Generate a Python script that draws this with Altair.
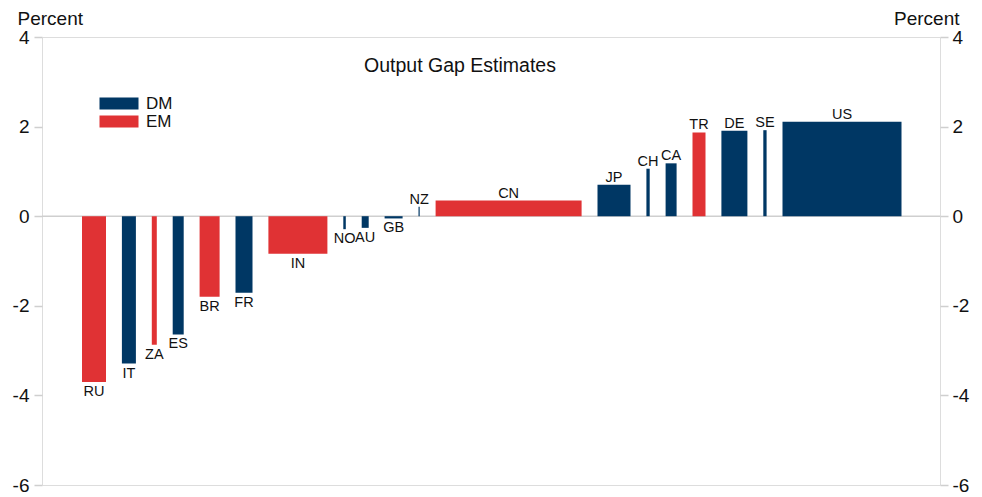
import altair as alt
import pandas as pd

countries = ["RU", "IT", "ZA", "ES", "BR", "FR", "IN", "NO", "AU", "GB", "NZ",
             "CN", "JP", "CH", "CA", "TR", "DE", "SE", "US"]
groups = ["EM", "DM", "EM", "DM", "EM", "DM", "EM", "DM", "DM", "DM", "DM",
          "EM", "DM", "DM", "DM", "EM", "DM", "DM", "DM"]
gaps = [-3.70, -3.29, -2.87, -2.64, -1.80, -1.71, -0.84, -0.29, -0.26, -0.05, 0.21,
        0.35, 0.70, 1.06, 1.18, 1.87, 1.91, 1.92, 2.11]
# relative economic weight (bar width)
weights = [24, 14, 5, 11, 20, 17, 59, 2.5, 7, 18, 1.2,
           146, 33, 3.3, 11, 13, 26, 3.3, 119]
tick_values = [-6, -4, -2, 0, 2, 4]
title_text = ["Output Gap Estimates"]

LEAD = 40
SPACE = 15.9
rows = []
pos = LEAD
for c, g, v, w in zip(countries, groups, gaps, weights):
    rows.append({"country": c, "group": g, "value": v, "x0": pos, "x1": pos + w,
                 "xm": pos + w / 2})
    pos += w + SPACE
df = pd.DataFrame(rows)

FONT = "Liberation Sans"
GRAY = "#cfcfcf"
NAVY = "#003764"
RED = "#E03234"
LABEL_EXPR = "datum.value < 0 ? '-' + abs(datum.value) : '' + datum.value"

xs = alt.Scale(domain=[0, 898], nice=False, zero=False)
ys = alt.Scale(domain=[-6, 4], nice=False, zero=False)


def make_axis(orient):
    left = orient == "left"
    return alt.Axis(values=tick_values, labelExpr=LABEL_EXPR, grid=False, domain=False,
                    tickSize=8, tickColor=GRAY, tickWidth=1.5, labelFontSize=19,
                    labelColor="#111", labelPadding=5 if left else 4, labelFont=FONT,
                    title="Percent", titleAngle=0, titleFontSize=19, titleFont=FONT,
                    titleFontWeight="normal", titleColor="#111",
                    titleAlign="left" if left else "right",
                    titleBaseline="alphabetic", titleX=-25 if left else 19, titleY=-13,
                    orient=orient)


base = alt.Chart(df)

bars = base.mark_bar(stroke=None).encode(
    x=alt.X("x0:Q", scale=xs, axis=None),
    x2="x1:Q",
    y=alt.Y("value:Q", scale=ys, axis=make_axis("left")),
    y2=alt.datum(0),
    color=alt.Color("group:N",
                    scale=alt.Scale(domain=["DM", "EM"], range=[NAVY, RED]),
                    legend=alt.Legend(title=None, orient="none", legendX=68.5, legendY=58,
                                      symbolType="M-3.25,-1H3.25V1H-3.25Z",
                                      symbolSize=144, symbolStrokeWidth=0,
                                      labelFontSize=17, labelFont=FONT, labelColor="#111",
                                      labelOffset=18.5, rowPadding=0)),
)

zero = alt.Chart(pd.DataFrame({"z": [0]})).mark_rule(color=GRAY, strokeWidth=1.5).encode(
    y=alt.Y("z:Q", scale=ys, axis=make_axis("right"))
)

pos_labels = base.transform_filter("datum.value >= 0").mark_text(
    baseline="alphabetic", dy=-3, fontSize=14.5, font=FONT, color="#111"
).encode(x=alt.X("xm:Q", scale=xs, axis=None), y=alt.Y("value:Q", scale=ys, axis=None),
         text="country:N")

neg_labels = base.transform_filter("datum.value < 0").mark_text(
    baseline="top", dy=3, fontSize=14.5, font=FONT, color="#111"
).encode(x=alt.X("xm:Q", scale=xs, axis=None), y=alt.Y("value:Q", scale=ys, axis=None),
         text="country:N")

title = alt.Chart(pd.DataFrame({"t": title_text})).mark_text(
    fontSize=19.5, font=FONT, color="#111", align="center", baseline="alphabetic"
).encode(x=alt.value(418), y=alt.value(35), text="t:N")

chart = alt.layer(zero, bars, pos_labels, neg_labels, title).resolve_axis(y="independent").properties(
    width=898, height=448,
    autosize=alt.AutoSizeParams(type="none"),
    padding={"left": 34, "top": 29, "right": 34, "bottom": 11},
).configure_view(stroke=GRAY, strokeWidth=1.5).configure(background="white")

chart.save("out.html", embed_options={"renderer": "svg", "actions": False})
